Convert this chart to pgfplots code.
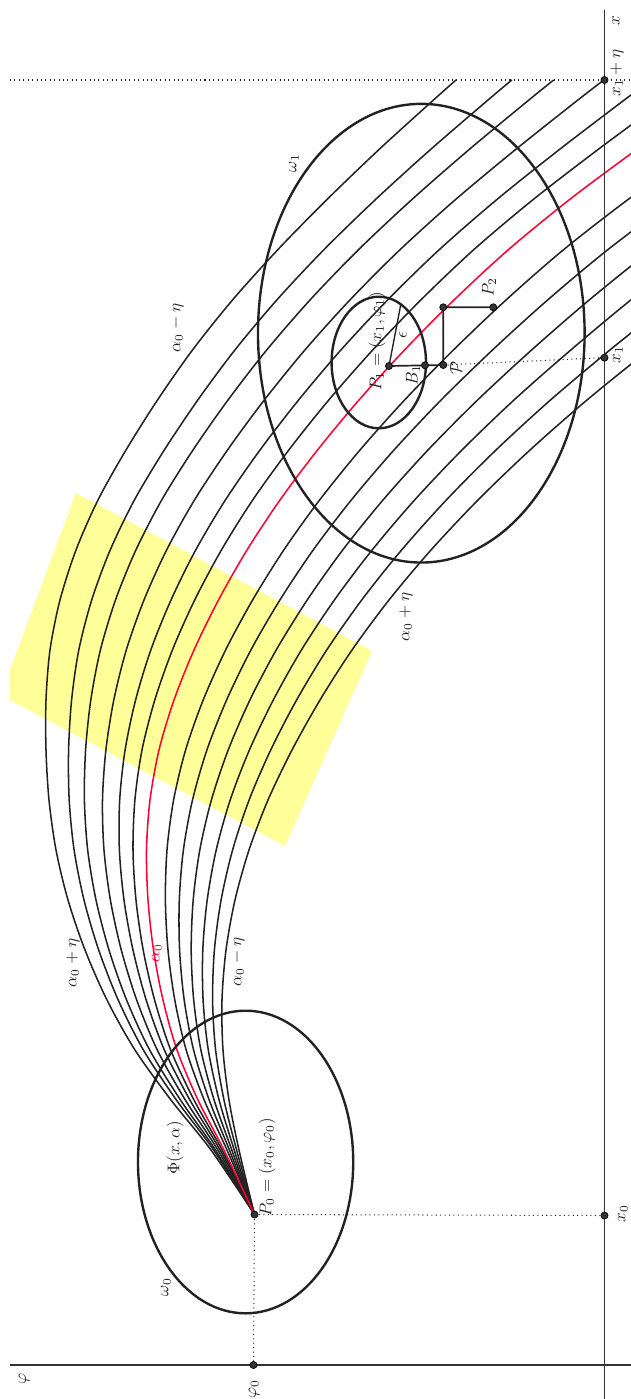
\documentclass[border=0pt]{standalone}
\usepackage{pgfplots}
\pgfplotsset{compat=1.18}
\definecolor{cv}{RGB}{34,34,34}
\definecolor{rc}{RGB}{255,0,51}
\definecolor{yl}{RGB}{255,255,153}
\definecolor{axc}{RGB}{51,51,51}
\begin{document}
\begin{tikzpicture}
\begin{axis}[name=main, hide axis, x=0.5882pt, y=0.5882pt, y dir=reverse,
  xmin=0, xmax=631, ymin=0, ymax=1399, clip=true,
  every axis plot/.append style={line join=round}]
% yellow band
\addplot[fill=yl, draw=none] coordinates {(76,493) (372,651) (285,846) (10,700) (10,670)} --cycle;
% family of curves
\pgfplotsset{cur/.style={cv, line width=0.9pt, smooth}}
\addplot[cur] coordinates {(254.5,1214.5) (211,1150) (171,1100) (135,1050) (107,1000) (85,950) (68,900) (56,850) (49,800) (46,750) (46,700) (50,650) (60,600) (76,550) (98,500) (126,450) (157.5,400) (192.5,350) (232.5,300) (277.5,250) (326.5,200) (378.5,150) (433.5,100) (456,80)};
\addplot[cur] coordinates {(254.5,1214.5) (213.6,1150) (176.4,1100) (143.4,1050) (118.2,1000) (98.7,950) (84,900) (74.1,850) (69.2,800) (68.6,750) (71.6,700) (78.8,650) (91.7,600) (110.2,550) (134.4,500) (164.3,450) (197.8,400) (234.9,350) (276.8,300) (323.6,250) (375,200) (430,150) (488,100) (511.8,80)};
\addplot[cur] coordinates {(254.5,1214.5) (215.5,1150) (180.5,1100) (149.7,1050) (126.6,1000) (109,950) (96,900) (87.7,850) (84.4,800) (85.6,750) (90.8,700) (100.4,650) (115.5,600) (135.9,550) (161.7,500) (193,450) (228,400) (266.7,350) (310,300) (358.2,250) (411.4,200) (468.6,150) (528.9,100) (553.7,80)};
\addplot[cur] coordinates {(254.5,1214.5) (217.9,1150) (185.3,1100) (157.3,1050) (136.7,1000) (121.3,950) (110.4,900) (104,850) (102.5,800) (105.9,750) (113.8,700) (126.3,650) (144,600) (166.6,550) (194.5,500) (227.5,450) (264.3,400) (304.9,350) (349.9,300) (399.7,250) (455,200) (515,150) (577.9,100) (603.9,80)};
\addplot[cur] coordinates {(254.5,1214.5) (220.1,1150) (189.9,1100) (164.4,1050) (146.2,1000) (133,950) (124,900) (119.4,850) (119.7,800) (125.1,750) (135.6,700) (150.8,650) (171,600) (195.7,550) (225.4,500) (260,450) (298.6,400) (340.9,350) (387.6,300) (438.9,250) (496.3,200) (558.8,150) (624.3,100) (651.3,80)};
\addplot[cur] coordinates {(254.5,1214.5) (222.1,1150) (194,1100) (170.7,1050) (154.6,1000) (143.2,950) (136,900) (133,850) (134.9,800) (142,750) (154.8,700) (172.4,650) (194.7,600) (221.4,550) (252.7,500) (288.8,450) (328.8,400) (372.7,350) (420.8,300) (473.4,250) (532.6,200) (597.4,150) (665.1,100) (693.2,80)};
\addplot[cur] coordinates {(254.5,1214.5) (227,1150) (204.2,1100) (186.2,1050) (174.8,1000) (168,950) (165.4,900) (167,850) (173.6,800) (185.6,750) (203.2,700) (225.6,650) (252.6,600) (283.8,550) (319.6,500) (360,450) (404.6,400) (453.4,350) (506,300) (563.2,250) (627.4,200) (697.6,150)};
\addplot[cur] coordinates {(254.5,1214.5) (229.4,1150) (209.2,1100) (193.6,1050) (184.2,1000) (179.6,950) (179.3,900) (183.4,850) (192.5,800) (206.9,750) (226.6,700) (250.9,650) (279.9,600) (313.2,550) (351.3,500) (394,450) (441.1,400) (492.5,350) (547.6,300) (607.4,250) (674.1,200) (746.9,150)};
\addplot[cur] coordinates {(254.5,1214.5) (231.8,1150) (214.1,1100) (200.9,1050) (193.7,1000) (191.2,950) (193.2,900) (199.8,850) (211.4,800) (228.2,750) (249.9,700) (276.2,650) (307.2,600) (342.7,550) (383,500) (428,450) (477.6,400) (531.6,350) (589.2,300) (651.5,250) (720.8,200)};
\addplot[cur] coordinates {(254.5,1214.5) (234.2,1150) (219.1,1100) (208.3,1050) (203.1,1000) (202.8,950) (207.2,900) (216.2,850) (230.2,800) (249.4,750) (273.3,700) (301.4,650) (334.4,600) (372.1,550) (414.6,500) (462,450) (514,400) (570.8,350) (630.8,300) (695.7,250)};
\addplot[cur] coordinates {(254.5,1214.5) (236.6,1150) (224,1100) (215.6,1050) (212.6,1000) (214.4,950) (221.1,900) (232.6,850) (249.1,800) (270.7,750) (296.6,700) (326.7,650) (361.7,600) (401.6,550) (446.3,500) (496,450) (550.5,400) (609.9,350) (672.4,300)};
\addplot[cur] coordinates {(254.5,1214.5) (239,1150) (229,1100) (223,1050) (222,1000) (226,950) (235,900) (249,850) (268,800) (292,750) (320,700) (352,650) (389,600) (431,550) (478,500) (530,450) (587,400) (649,350) (715,300)};
% red curve alpha_0
\addplot[rc, line width=0.9pt, smooth] coordinates {(254.5,1214.5) (224,1150) (198,1100) (177,1050) (163,1000) (153.5,950) (148,900) (146.5,850) (150,800) (159,750) (174,700) (194,650) (218.5,600) (247,550) (280,500) (317.5,450) (359,400) (404.5,350) (454,300) (508,250) (569,200) (636,150) (706,100) (735,80)};
% ellipses
\draw[cv, line width=1.4pt] (axis cs:421.3,333.2) ellipse [x radius=96.06pt, y radius=134.9pt];
\draw[cv, line width=1.4pt] (axis cs:245.6,1162) ellipse [x radius=63.3pt, y radius=89.0pt];
\draw[cv, line width=1.4pt] (axis cs:378.8,362.5) ellipse [x radius=27.76pt, y radius=38.7pt];
% axes
\addplot[axc, line width=1.1pt] coordinates {(604.5,10) (604.5,1399)};
\addplot[axc, line width=1.1pt] coordinates {(10,1365) (631,1365)};
% dotted lines
\addplot[cv, line width=0.6pt, dotted] coordinates {(10,80) (631,80)};
\addplot[cv, line width=0.6pt, dotted] coordinates {(254.5,1214.5) (604.5,1215.5)};
\addplot[cv, line width=0.6pt, dotted] coordinates {(254.5,1214.5) (253.5,1365)};
\addplot[cv, line width=0.6pt, dotted] coordinates {(443.3,365) (604.5,357.7)};
% construction lines
\addplot[cv, line width=1pt] coordinates {(389,366) (443.3,365) (443.3,307.3) (493.3,307.3)};
\addplot[cv, line width=0.8pt] coordinates {(389,366) (401,303.3)};
% points
\addplot[only marks, mark=*, mark size=2.1pt, mark options={fill=axc, draw=black, line width=0.4pt}] coordinates {(254.5,1214.5) (253.5,1365) (604.5,1215.5) (604.5,357.7) (604.5,80) (389,366) (425,365.3) (443.3,365) (443.3,307.3) (493.3,307.3)};
% labels
\begin{scope}[every node/.style={rotate=90, text=cv, inner sep=0pt}]
\node at (axis cs:616,21) {$x$};
\node at (axis cs:617,73) {$x_1+\eta$};
\node at (axis cs:618,355) {$x_1$};
\node at (axis cs:623,1214) {$x_0$};
\node at (axis cs:24,1379) {$\varphi$};
\node at (axis cs:254,1389) {$\varphi_0$};
\node at (axis cs:166,1287) {$\omega_0$};
\node at (axis cs:175,1148) {$\Phi(x,\alpha)$};
\node at (axis cs:267,1167) {$P_0=(x_0,\varphi_0)$};
\node at (axis cs:73,963) {$\alpha_0+\eta$};
\node[text=rc] at (axis cs:157,953) {$\alpha_0$};
\node at (axis cs:238,962) {$\alpha_0-\eta$};
\node at (axis cs:406,617) {$\alpha_0+\eta$};
\node at (axis cs:177,328) {$\alpha_0-\eta$};
\node at (axis cs:294,163) {$\omega_1$};
\node at (axis cs:377,341) {$P_1=(x_1,\varphi_1)$};
\node at (axis cs:403,335) {$\epsilon$};
\node at (axis cs:413,375) {$B_1$};
\node at (axis cs:456,368) {$\mathcal{P}$};
\node at (axis cs:489,287) {$P_2$};
\end{scope}
\end{axis}
\pgfresetboundingbox
\path[use as bounding box] (main.south west) rectangle (main.north east);
\end{tikzpicture}
\end{document}
